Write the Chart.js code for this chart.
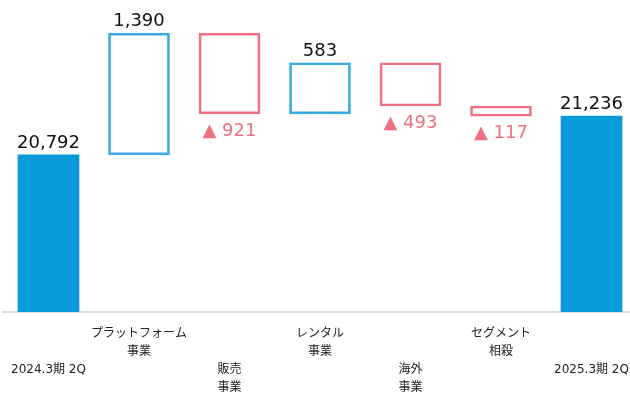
<!DOCTYPE html>
<html>
<head>
<meta charset="utf-8">
<script src="https://cdn.jsdelivr.net/npm/chart.js@4.4.1/dist/chart.umd.min.js"></script>
<style>
  html, body { margin: 0; padding: 0; background: #fff; overflow: hidden; }
  #wrap { width: 644px; height: 413px; margin-left: -2px; }
</style>
</head>
<body>
<div id="wrap"><canvas id="chartPuente" width="644" height="413"></canvas></div>
<script>
// categorias (las impares van en la fila de abajo)
const categorias = [
  ['', '', '2024.3期 2Q'],
  ['プラットフォーム', '事業'],
  ['', '', '販売', '事業'],
  ['レンタル', '事業'],
  ['', '', '海外', '事業'],
  ['セグメント', '相殺'],
  ['', '', '2025.3期 2Q']
];
const valores = [20792, 1390, -921, 583, -493, -117, 21236];
const tipos = ['total', 'sube', 'baja', 'sube', 'baja', 'baja', 'total'];
const ejeMin = 19000;
const ejeMax = 22560;

const AZUL = '#0a9bdc';
const AZUL_LINEA = '#3aabe0';
const ROJO = '#ef7080';

// rangos flotantes del puente
let acumulado = 0;
const rangos = valores.map((v, i) => {
  if (tipos[i] === 'total') {
    acumulado = v;
    return [ejeMin, v];
  }
  const inicio = acumulado;
  acumulado += v;
  return [Math.min(inicio, acumulado), Math.max(inicio, acumulado)];
});

const etiquetasValor = {
  id: 'etiquetasValor',
  afterDatasetsDraw(chart) {
    const ctx = chart.ctx;
    const meta = chart.getDatasetMeta(0);
    ctx.save();
    ctx.font = '18px "DejaVu Sans", sans-serif';
    ctx.textAlign = 'center';
    meta.data.forEach((bar, i) => {
      const v = valores[i];
      const top = Math.min(bar.y, bar.base);
      const bottom = Math.max(bar.y, bar.base);
      if (tipos[i] === 'baja') {
        ctx.fillStyle = ROJO;
        ctx.textBaseline = 'top';
        ctx.fillText('▲ ' + Math.abs(v).toLocaleString('en-US'), bar.x, bottom + 8);
      } else {
        ctx.fillStyle = '#111';
        ctx.textBaseline = 'alphabetic';
        ctx.fillText(v.toLocaleString('en-US'), bar.x, top - 7);
      }
    });
    ctx.restore();
  }
};

new Chart(document.getElementById('chartPuente'), {
  type: 'bar',
  data: {
    labels: categorias,
    datasets: [{
      data: rangos,
      backgroundColor: tipos.map(t => t === 'total' ? AZUL : 'rgba(255,255,255,0)'),
      borderColor: tipos.map(t => t === 'total' ? AZUL : (t === 'sube' ? AZUL_LINEA : ROJO)),
      borderWidth: tipos.map(t => t === 'total' ? 0 : 2),
      borderSkipped: false,
      barThickness: 61
    }]
  },
  options: {
    responsive: false,
    animation: false,
    layout: { padding: { left: 3, right: 3, top: 0, bottom: 3 } },
    plugins: { legend: { display: false }, tooltip: { enabled: false } },
    scales: {
      x: {
        z: 1,
        grid: { display: false, drawTicks: false },
        border: { display: true, color: 'rgba(210,210,210,0.8)', width: 2 },
        ticks: {
          padding: 13,
          maxRotation: 0,
          autoSkip: false,
          color: '#222',
          font: { family: '"DejaVu Sans", "Noto Sans CJK JP", sans-serif', size: 12, lineHeight: 1.5 }
        }
      },
      y: {
        display: false,
        min: ejeMin,
        max: ejeMax
      }
    }
  },
  plugins: [etiquetasValor]
});
</script>
</body>
</html>
